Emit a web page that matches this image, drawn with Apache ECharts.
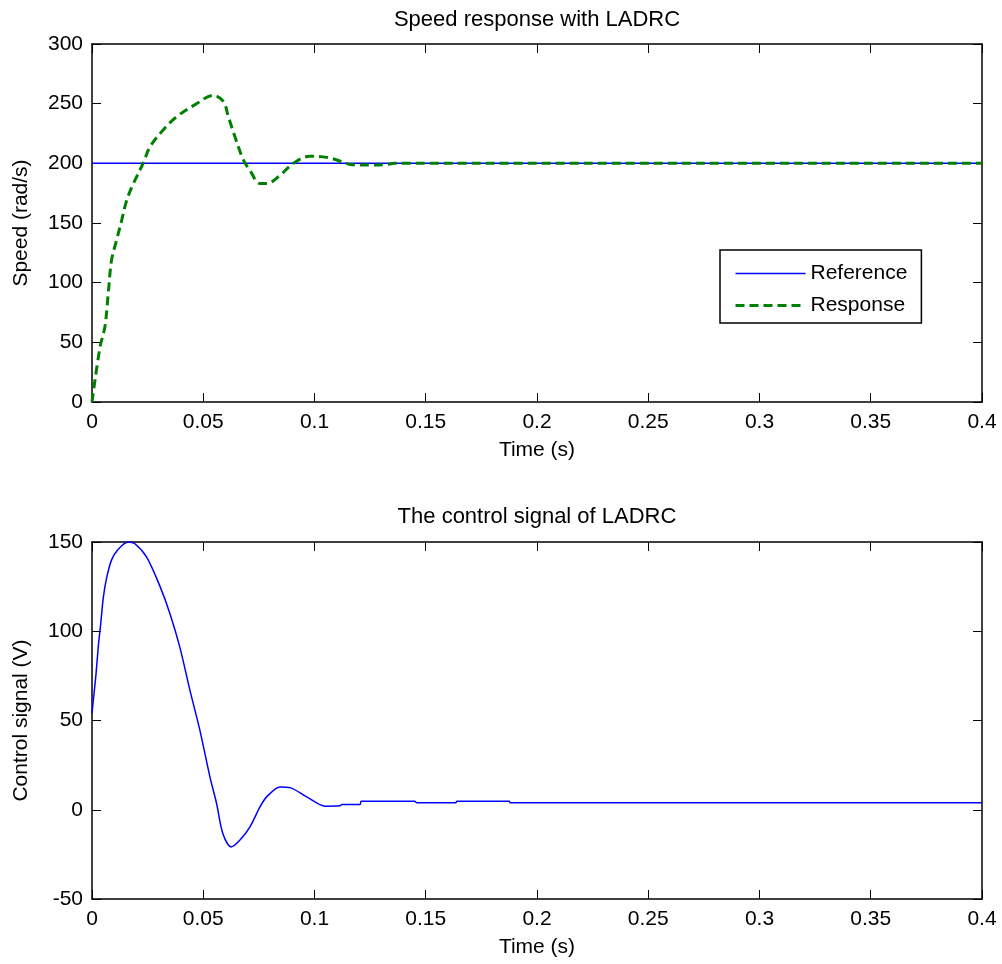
<!DOCTYPE html>
<html>
<head>
<meta charset="utf-8">
<script src="https://cdn.jsdelivr.net/npm/echarts@6/dist/echarts.min.js"></script>
<style>html,body{margin:0;padding:0;background:#fff}#c{width:1002px;height:964px}</style>
</head>
<body>
<div id="c"></div>
<script>
// ---- data ----
const refT = [0, 0.4];
const refV = [200, 200];
const speedT = [0, 0.0036, 0.0058, 0.0073, 0.0088, 0.0111, 0.0133, 0.0156, 0.0186, 0.0231, 0.0261, 0.032, 0.038, 0.047, 0.0545, 0.059, 0.0613, 0.0643, 0.068, 0.071, 0.0755, 0.0785, 0.0845, 0.0905, 0.098, 0.1055, 0.113, 0.116, 0.125, 0.132, 0.136, 0.4];
const speedV = [0, 46, 63, 91, 119, 136, 152, 169, 183, 200.5, 214, 228, 239, 250, 257, 252, 239, 222, 203, 194, 183, 183, 190, 200, 206, 205, 201, 199, 198.5, 199, 200, 200];
const controlT = [0, 0.0009, 0.0018, 0.0028, 0.0039, 0.0051, 0.0066, 0.0088, 0.0118, 0.0163, 0.0193, 0.0245, 0.0306, 0.035, 0.0395, 0.044, 0.0485, 0.053, 0.056, 0.0588, 0.0626, 0.0665, 0.071, 0.0755, 0.0785, 0.0845, 0.089, 0.0965, 0.1048, 0.1115, 0.1122, 0.1205, 0.121, 0.145, 0.146, 0.1635, 0.164, 0.1875, 0.188, 0.4];
const controlV = [54, 65, 76, 91, 104, 119, 130, 140, 146, 150, 149, 141.6, 125, 110, 91, 67, 44.5, 18.4, 3.5, -13.3, -20.8, -17, -9.6, 1.6, 7.2, 12.8, 12.4, 7.2, 2, 2.2, 3, 3, 4.8, 4.8, 3.9, 3.9, 4.8, 4.8, 3.9, 3.9];
const titles = ['Speed response with LADRC', 'The control signal of LADRC'];
const xName = 'Time (s)';
const yNames = ['Speed (rad/s)', 'Control signal (V)'];
const legendNames = ['Reference', 'Response'];

const pairs = (t, v) => t.map((x, i) => [x, v[i]]);
const FONT = 'Liberation Sans, Arial, sans-serif';
const FS = 21;

function xAx(grid, show) {
  return {
    type: 'value', gridIndex: grid, min: 0, max: 0.4, interval: 0.05,
    position: show ? 'bottom' : 'top',
    name: show ? xName : '', nameLocation: 'middle', nameGap: 38,
    nameTextStyle: {fontFamily: FONT, fontSize: FS, color: '#000'},
    axisLine: {show: true, onZero: false, lineStyle: {color: '#000', width: 1.5}},
    axisTick: {show: true, inside: true, length: 9, lineStyle: {color: '#000', width: 1}},
    axisLabel: {show: show, fontFamily: FONT, fontSize: FS, color: '#000', margin: 10},
    splitLine: {show: false}
  };
}
function yAx(grid, show, min, max) {
  return {
    type: 'value', gridIndex: grid, min: min, max: max, interval: 50,
    position: show ? 'left' : 'right',
    name: show ? yNames[grid] : '', nameLocation: 'middle', nameGap: 60,
    nameTextStyle: {fontFamily: FONT, fontSize: FS, color: '#000'},
    axisLine: {show: true, onZero: false, lineStyle: {color: '#000', width: 1.5}},
    axisTick: {show: true, inside: true, length: 9, lineStyle: {color: '#000', width: 1}},
    axisLabel: {show: show, fontFamily: FONT, fontSize: FS, color: '#000', margin: 9},
    splitLine: {show: false}
  };
}

const chart = echarts.init(document.getElementById('c'), null, {renderer: 'canvas'});
chart.setOption({
  animation: false,
  backgroundColor: '#fff',
  title: [
    {text: titles[0], left: 537, top: 9, textAlign: 'center', padding: 0,
     textStyle: {fontFamily: FONT, fontSize: 22, fontWeight: 'normal', color: '#000'}},
    {text: titles[1], left: 537, top: 506, textAlign: 'center', padding: 0,
     textStyle: {fontFamily: FONT, fontSize: 22, fontWeight: 'normal', color: '#000'}}
  ],
  grid: [
    {left: 92, top: 44, width: 890, height: 358},
    {left: 92, top: 542, width: 890, height: 357}
  ],
  xAxis: [xAx(0, true), xAx(0, false), xAx(1, true), xAx(1, false)],
  yAxis: [yAx(0, true, 0, 300), yAx(0, false, 0, 300), yAx(1, true, -50, 150), yAx(1, false, -50, 150)],
  legend: {
    left: 720, top: 250, orient: 'vertical',
    data: [
      {name: legendNames[0], lineStyle: {width: 1.5, color: '#0000ff'}},
      {name: legendNames[1], lineStyle: {width: 3, color: '#008000', type: [9, 5]}}
    ],
    backgroundColor: '#fff', borderColor: '#000', borderWidth: 1.5,
    padding: [13, 14, 7, 14], itemGap: 11, itemWidth: 70, itemHeight: 14,
    itemStyle: {opacity: 0, borderWidth: 0},
    textStyle: {fontFamily: FONT, fontSize: FS, color: '#000'}
  },
  series: [
    {name: legendNames[0], type: 'line', xAxisIndex: 0, yAxisIndex: 0, data: pairs(refT, refV),
     symbol: 'none', lineStyle: {color: '#0000ff', width: 1.5}, itemStyle: {color: '#0000ff'}, z: 2},
    {name: legendNames[1], type: 'line', xAxisIndex: 0, yAxisIndex: 0, data: pairs(speedT, speedV),
     symbol: 'none', smooth: 0.35,
     lineStyle: {color: '#008000', width: 3, type: [9, 5]}, itemStyle: {color: '#008000'}, z: 3},
    {name: 'Control', type: 'line', xAxisIndex: 2, yAxisIndex: 2, data: pairs(controlT, controlV),
     symbol: 'none', smooth: 0.3,
     lineStyle: {color: '#0000ff', width: 1.5}, itemStyle: {color: '#0000ff'}}
  ]
});
</script>
</body>
</html>
